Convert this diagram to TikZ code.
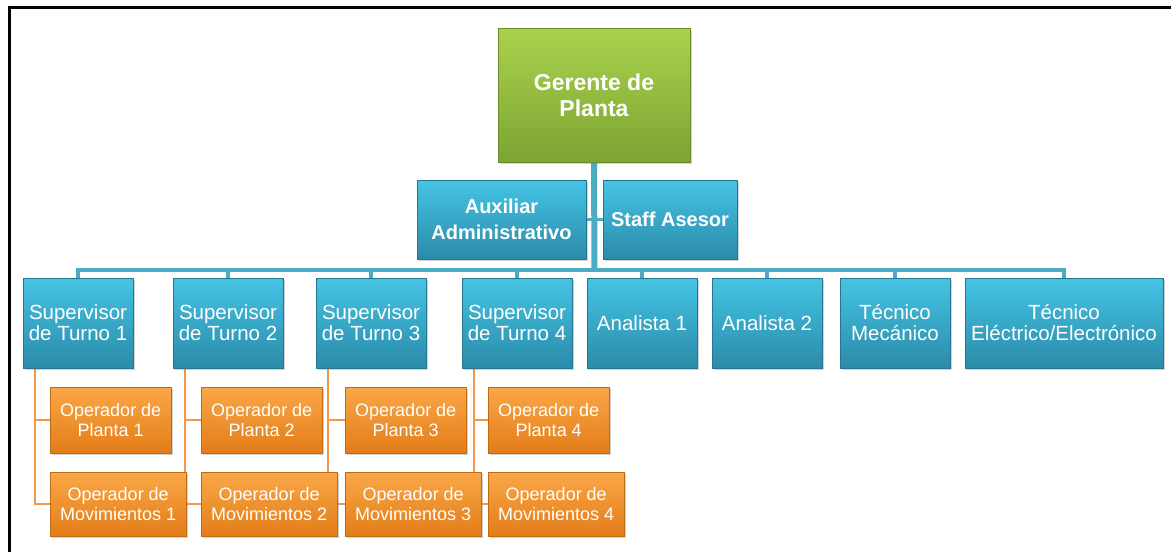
\documentclass[tikz,border=0pt]{standalone}
\usepackage{fontspec}
\setmainfont{Liberation Sans}
\usetikzlibrary{shadows,backgrounds,positioning}
\definecolor{bluetop}{HTML}{45C4E4}
\definecolor{bluebot}{HTML}{2B8BA9}
\definecolor{greentop}{HTML}{AAD24D}
\definecolor{greenbot}{HTML}{7DA432}
\definecolor{orgtop}{HTML}{FAA748}
\definecolor{orgbot}{HTML}{E37D18}
\definecolor{bluelink}{HTML}{4BACC6}
\definecolor{orglink}{HTML}{F79646}
\tikzset{
  box/.style={rectangle,inner sep=0pt,align=center,text=white,line width=0.5pt,
    drop shadow={opacity=0.35,shadow xshift=2pt,shadow yshift=-2pt}},
  headbox/.style={box,top color=greentop,bottom color=greenbot,draw=greenbot!85!black,
    font=\bfseries\fontsize{23}{26}\selectfont},
  auxbox/.style={box,top color=bluetop,bottom color=bluebot,draw=bluebot!85!black,
    font=\bfseries\fontsize{20}{26}\selectfont},
  posbox/.style={box,top color=bluetop,bottom color=bluebot,draw=bluebot!85!black,
    font=\fontsize{20.5}{21}\selectfont,minimum height=90pt},
  opbox/.style={box,top color=orgtop,bottom color=orgbot,draw=orgbot!85!black,
    font=\fontsize{18}{20}\selectfont,anchor=west},
  trunk/.style={bluelink,line width=6pt},
  bus/.style={bluelink,line width=3.5pt},
  branch/.style={orglink,line width=2.5pt},
  frame/.style={black,line width=3pt}
}
\begin{document}
\begin{tikzpicture}[x=1pt,y=-1pt]
\useasboundingbox (0,0) rectangle (1171,552);
\draw[frame] (9,552) |- (1171,7.5);
% top
\node[headbox,minimum width=192pt,minimum height=134pt] (ger) at (594,95) {Gerente de\\Planta};
\node[auxbox,minimum width=169pt,minimum height=79pt] (aux) at (501.5,219.5) {Auxiliar\\Administrativo};
\node[auxbox,minimum width=134pt,minimum height=79pt] (staff) at (670,219.5) {Staff Asesor};
% supervisors and staff positions
\foreach \i/\x in {1/78,2/228,3/371,4/517} {
  \node[posbox,minimum width=110pt] (sup\i) at (\x,323) {Supervisor\\de Turno \i};
}
\node[posbox,minimum width=110pt] (an1) at (642,323) {Analista 1};
\node[posbox,minimum width=110pt] (an2) at (767,323) {Analista 2};
\node[posbox,minimum width=110pt] (tm) at (895,323) {Técnico\\Mecánico};
\node[posbox,minimum width=198pt] (te) at (1064,323) {Técnico\\Eléctrico/Electrónico};
% operators
\foreach \i/\l in {1/50,2/201,3/345,4/488} {
  \node[opbox,minimum width=121pt,minimum height=66pt] (opp\i) at (\l,420) {Operador de\\Planta \i};
  \node[opbox,minimum width=136pt,minimum height=64pt] (opm\i) at (\l,504) {Operador de\\Movimientos \i};
}
\coordinate (bus) at (594.5,270);
% links
\begin{scope}[on background layer]
\draw[trunk] (ger.south) -- (bus);
\draw[bus] (aux.east) -- (aux.east -| bus);
\draw[bus] (staff.west) -- (staff.west -| bus);
\foreach \n in {sup1,sup2,sup3,sup4,an1,an2,tm,te} {
  \draw[bus] (bus) -| (\n.north);
}
\foreach \i in {1,2,3,4} {
  \draw[branch] ([xshift=12pt]sup\i.south west) |- (opp\i.west);
  \draw[branch] ([xshift=12pt]sup\i.south west) |- (opm\i.west);
}
\end{scope}
\end{tikzpicture}
\end{document}
